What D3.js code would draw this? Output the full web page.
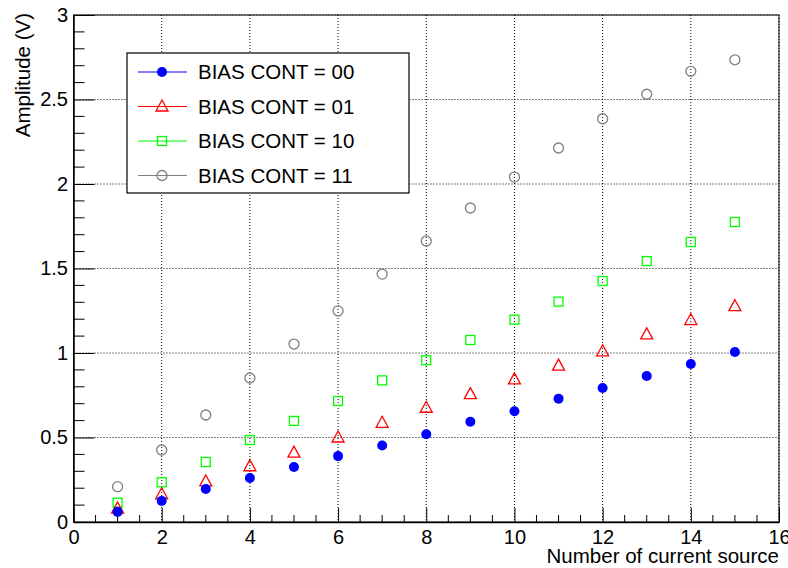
<!DOCTYPE html>
<html>
<head>
<meta charset="utf-8">
<script src="https://cdn.jsdelivr.net/npm/d3@7"></script>
<style>
  body { margin: 0; background: #fff; }
  svg text { font-family: "Liberation Sans", Arial, Helvetica, sans-serif; }
</style>
</head>
<body>
<div class="chart"></div>
<script>
// data
var sources = [1, 2, 3, 4, 5, 6, 7, 8, 9, 10, 11, 12, 13, 14, 15];
var bias00 = [0.06, 0.125, 0.195, 0.26, 0.325, 0.39, 0.453, 0.519, 0.593, 0.655, 0.73, 0.793, 0.864, 0.935, 1.006];
var bias01 = [0.08, 0.164, 0.24, 0.33, 0.41, 0.50, 0.587, 0.676, 0.757, 0.844, 0.925, 1.01, 1.11, 1.195, 1.277];
var bias10 = [0.114, 0.235, 0.355, 0.485, 0.598, 0.716, 0.838, 0.957, 1.077, 1.197, 1.304, 1.426, 1.544, 1.657, 1.775];
var bias11 = [0.209, 0.426, 0.633, 0.852, 1.053, 1.249, 1.467, 1.663, 1.858, 2.041, 2.213, 2.386, 2.531, 2.667, 2.735];
var seriesNames = ["BIAS CONT = 00", "BIAS CONT = 01", "BIAS CONT = 10", "BIAS CONT = 11"];
var xTicks = [0, 2, 4, 6, 8, 10, 12, 14, 16];
var yTicks = [0, 0.5, 1, 1.5, 2, 2.5, 3];

var svgWidth = 788;
var svgHeight = 568;
var margin = { top: 15, right: 9, bottom: 46, left: 73.5 };
var width = svgWidth - margin.left - margin.right;
var height = svgHeight - margin.top - margin.bottom;

var svg = d3.select(".chart")
  .append("svg")
  .attr("width", svgWidth)
  .attr("height", svgHeight);

var chartGroup = svg.append("g")
  .attr("transform", `translate(${margin.left}, ${margin.top})`);

var xScale = d3.scaleLinear().domain([0, 16]).range([0, width]);
var yScale = d3.scaleLinear().domain([0, 3]).range([height, 0]);

// dotted grid
chartGroup.selectAll(".gx")
  .data(xTicks.slice(1))
  .enter()
  .append("line")
  .attr("x1", d => xScale(d)).attr("x2", d => xScale(d))
  .attr("y1", 0).attr("y2", height)
  .attr("stroke", "#000").attr("stroke-width", 1)
  .attr("stroke-dasharray", "1,2");

chartGroup.selectAll(".gy")
  .data(yTicks.slice(1))
  .enter()
  .append("line")
  .attr("x1", 0).attr("x2", width)
  .attr("y1", d => yScale(d)).attr("y2", d => yScale(d))
  .attr("stroke", "#000").attr("stroke-width", 1)
  .attr("stroke-dasharray", "1,2");

// frame
chartGroup.append("rect")
  .attr("width", width).attr("height", height)
  .attr("fill", "none").attr("stroke", "#000").attr("stroke-width", 1);

// x axis: ticks point inward
var xAxis = d3.axisBottom(xScale).tickValues(xTicks).tickSize(-14).tickSizeOuter(0)
  .tickPadding(7.5).tickFormat(d3.format("d"));
var gx = chartGroup.append("g")
  .attr("transform", `translate(0, ${height})`)
  .call(xAxis);
var xMinor = d3.range(0, 16.01, 0.5).filter(v => v % 2 !== 0);
chartGroup.selectAll(".xminor")
  .data(xMinor)
  .enter()
  .append("line")
  .attr("x1", d => xScale(d)).attr("x2", d => xScale(d))
  .attr("y1", height).attr("y2", height - 7)
  .attr("stroke", "#000");

// y axis
var yAxis = d3.axisLeft(yScale).tickValues(yTicks).tickSize(-21).tickSizeOuter(0)
  .tickPadding(5.5).tickFormat(d3.format("~g"));
var gy = chartGroup.append("g").call(yAxis);
var yMinor = d3.range(0, 3.001, 0.1).filter(v => Math.abs(v * 2 - Math.round(v * 2)) > 0.01);
chartGroup.selectAll(".yminor")
  .data(yMinor)
  .enter()
  .append("line")
  .attr("x1", 0).attr("x2", 11)
  .attr("y1", d => yScale(d)).attr("y2", d => yScale(d))
  .attr("stroke", "#000");

[gx, gy].forEach(function(g) {
  g.select(".domain").attr("stroke", "#000").attr("stroke-width", 1.5);
  g.selectAll(".tick line").attr("stroke", "#000");
  g.selectAll(".tick text").attr("font-size", "20px").attr("fill", "#000");
});

// axis titles
svg.append("text")
  .attr("text-anchor", "end")
  .attr("transform", "translate(29.5, 13) rotate(-90)")
  .attr("font-size", "20.5px")
  .text("Amplitude (V)");

svg.append("text")
  .attr("text-anchor", "end")
  .attr("x", margin.left + width)
  .attr("y", 563)
  .attr("font-size", "20.5px")
  .text("Number of current source");

// markers
var colors = ["#0000ff", "#ff0000", "#00ff00", "#808080"];
var allSeries = [bias00, bias01, bias10, bias11];

function drawMarker(sel, i) {
  if (i === 0) {
    sel.append("circle").attr("r", 5).attr("fill", colors[0]);
  } else if (i === 1) {
    sel.append("path").attr("d", "M0,-6.5L6,4.5L-6,4.5Z")
      .attr("fill", "none").attr("stroke", colors[1]).attr("stroke-width", 1.3);
  } else if (i === 2) {
    sel.append("rect").attr("x", -4.5).attr("y", -4.5).attr("width", 9).attr("height", 9)
      .attr("fill", "none").attr("stroke", colors[2]).attr("stroke-width", 1.3);
  } else {
    sel.append("circle").attr("r", 5)
      .attr("fill", "none").attr("stroke", colors[3]).attr("stroke-width", 1.3);
  }
}

// draw in reverse so blue ends on top
[3, 2, 1, 0].forEach(function(i) {
  chartGroup.append("g").selectAll("g")
    .data(sources.map((s, k) => ({ x: s, y: allSeries[i][k] })))
    .enter()
    .append("g")
    .attr("transform", d => `translate(${xScale(d.x)}, ${yScale(d.y)})`)
    .each(function() { drawMarker(d3.select(this), i); });
});

// legend
var legend = svg.append("g").attr("transform", "translate(127, 53)");
legend.append("rect")
  .attr("width", 282).attr("height", 140)
  .attr("fill", "#fff").attr("stroke", "#000").attr("stroke-width", 1.2);
var items = legend.selectAll(".item")
  .data(seriesNames)
  .enter()
  .append("g")
  .attr("transform", (d, i) => `translate(0, ${19 + i * 34.5})`);
items.append("line")
  .attr("x1", 11).attr("x2", 60)
  .attr("stroke", (d, i) => colors[i]).attr("stroke-width", 1.2);
items.each(function(d, i) {
  var g = d3.select(this).append("g").attr("transform", "translate(35, 0)");
  drawMarker(g, i);
});
items.append("text")
  .attr("x", 71)
  .attr("dy", "0.35em")
  .attr("font-size", "20.5px")
  .text(d => d);
</script>
</body>
</html>
